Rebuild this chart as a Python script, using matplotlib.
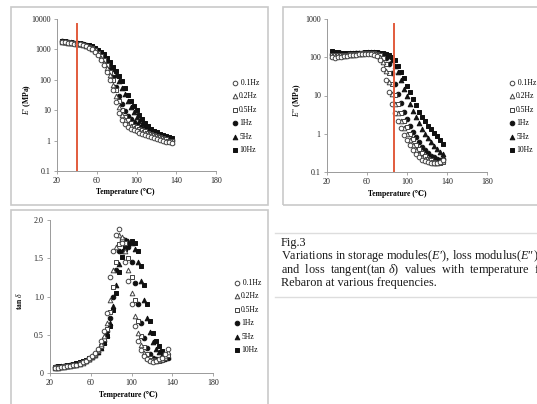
import matplotlib
matplotlib.use('Agg')  # no display
import matplotlib.pyplot as plt
from matplotlib.patches import Rectangle

plt.rcParams['font.family'] = ['Liberation Serif', 'DejaVu Serif']
plt.rcParams['mathtext.fontset'] = 'custom'
plt.rcParams['mathtext.rm'] = 'Liberation Serif'
plt.rcParams['mathtext.it'] = 'Liberation Serif:italic'
plt.rcParams['mathtext.bf'] = 'Liberation Serif:bold'

# temperature (deg C), shared by all sweeps
temps = [25, 28, 31, 34, 37, 40, 43, 46, 49, 52, 55, 58, 61, 64, 67, 70, 73, 76, 79,
         82, 85, 88, 91, 94, 97, 100, 103, 106, 109, 112, 115, 118, 121, 124, 127, 130, 133, 136]
freq_labels = [' 0.1Hz', '0.2Hz', '0.5Hz', '1Hz', '5Hz', '10Hz']

# storage modulus E' (MPa)
es_01 = [1750, 1700, 1650, 1600, 1550, 1500, 1450, 1380, 1280, 1150, 1000, 820, 640, 460, 300, 180, 100, 45, 18,
         8, 4.6, 3.4, 2.8, 2.5, 2.2, 2.0, 1.8, 1.65, 1.5, 1.4, 1.3, 1.2, 1.1, 1.05, 1.0, 0.92, 0.88, 0.85]
es_02 = [1780, 1720, 1670, 1620, 1570, 1520, 1470, 1400, 1310, 1190, 1050, 880, 700, 530, 370, 240, 140, 70, 30,
         13, 7, 4.6, 3.6, 3.0, 2.6, 2.3, 2.1, 1.9, 1.75, 1.6, 1.5, 1.4, 1.3, 1.2, 1.1, 1.0, 0.95, 0.9]
es_05 = [1800, 1750, 1700, 1650, 1600, 1550, 1490, 1420, 1340, 1230, 1100, 950, 780, 600, 440, 300, 180, 95, 45,
         20, 10, 6.2, 4.6, 3.7, 3.1, 2.7, 2.4, 2.2, 2.0, 1.8, 1.65, 1.5, 1.4, 1.3, 1.2, 1.1, 1.0, 0.95]
es_1 = [1820, 1770, 1720, 1670, 1620, 1570, 1510, 1450, 1370, 1270, 1150, 1000, 840, 670, 500, 350, 220, 120, 60,
        30, 16, 9.5, 6.5, 5.0, 4.0, 3.3, 2.8, 2.5, 2.2, 2.0, 1.8, 1.65, 1.5, 1.4, 1.3, 1.2, 1.1, 1.05]
es_5 = [1850, 1800, 1750, 1700, 1650, 1600, 1550, 1490, 1420, 1330, 1220, 1080, 930, 770, 610, 460, 330, 220, 140,
        90, 55, 33, 20, 12.5, 8.5, 6.0, 4.5, 3.5, 2.8, 2.4, 2.0, 1.8, 1.6, 1.5, 1.4, 1.3, 1.2, 1.15]
es_10 = [1870, 1820, 1770, 1720, 1670, 1620, 1570, 1510, 1440, 1360, 1260, 1130, 990, 840, 680, 530, 390, 270, 190,
         130, 90, 55, 32, 20, 14, 10, 7, 5, 3.8, 3.0, 2.5, 2.1, 1.85, 1.65, 1.5, 1.4, 1.3, 1.2]

# loss modulus E'' (MPa)
el_01 = [100, 98, 100, 102, 105, 108, 112, 115, 118, 120, 122, 124, 124, 122, 118, 108, 85, 50, 25,
         12, 6, 3.5, 2.2, 1.4, 0.95, 0.68, 0.5, 0.38, 0.3, 0.25, 0.21, 0.19, 0.18, 0.17, 0.17, 0.17, 0.18, 0.2]
el_02 = [108, 105, 106, 108, 110, 112, 115, 118, 121, 123, 125, 127, 128, 127, 124, 116, 100, 75, 45,
         22, 11, 6, 3.5, 2.2, 1.4, 1.0, 0.7, 0.5, 0.38, 0.3, 0.25, 0.22, 0.2, 0.18, 0.17, 0.17, 0.18, 0.2]
el_05 = [115, 112, 112, 113, 115, 117, 119, 121, 123, 125, 127, 129, 130, 130, 128, 123, 112, 95, 65,
         38, 20, 10.5, 6, 3.5, 2.2, 1.5, 1.0, 0.72, 0.52, 0.4, 0.31, 0.26, 0.22, 0.2, 0.18, 0.17, 0.17, 0.18]
el_1 = [122, 120, 118, 118, 120, 121, 122, 124, 126, 127, 129, 131, 132, 133, 132, 128, 122, 115, 95,
        65, 38, 20, 11, 6.2, 3.7, 2.4, 1.6, 1.1, 0.8, 0.6, 0.46, 0.37, 0.31, 0.27, 0.24, 0.22, 0.21, 0.22]
el_5 = [132, 130, 128, 126, 125, 125, 126, 127, 128, 129, 131, 133, 134, 135, 135, 133, 130, 125, 120,
        105, 85, 60, 40, 25, 15, 9.5, 6, 4, 2.7, 1.9, 1.35, 1.0, 0.78, 0.6, 0.48, 0.4, 0.34, 0.3]
el_10 = [142, 140, 136, 132, 130, 128, 128, 129, 130, 131, 132, 134, 135, 136, 137, 135, 133, 130, 125,
         115, 100, 85, 60, 42, 28, 18, 12, 8, 5.5, 3.8, 2.7, 2.1, 1.6, 1.3, 1.05, 0.85, 0.68, 0.55]

# loss tangent tan delta
td_01 = [0.07, 0.07, 0.075, 0.08, 0.085, 0.09, 0.1, 0.11, 0.12, 0.14, 0.16, 0.19, 0.22, 0.26, 0.32, 0.42, 0.55, 0.78, 1.25,
         1.6, 1.8, 1.88, 1.7, 1.45, 1.2, 0.9, 0.62, 0.42, 0.3, 0.22, 0.18, 0.16, 0.15, 0.16, 0.18, 0.2, 0.25, 0.32]
td_02 = [0.07, 0.07, 0.075, 0.08, 0.085, 0.09, 0.1, 0.11, 0.12, 0.135, 0.155, 0.18, 0.22, 0.25, 0.3, 0.38, 0.48, 0.65, 0.95,
         1.35, 1.65, 1.8, 1.78, 1.6, 1.35, 1.05, 0.75, 0.52, 0.36, 0.26, 0.2, 0.17, 0.16, 0.16, 0.17, 0.19, 0.22, 0.28]
td_05 = [0.075, 0.075, 0.08, 0.085, 0.09, 0.095, 0.1, 0.11, 0.125, 0.14, 0.16, 0.18, 0.21, 0.24, 0.29, 0.35, 0.44, 0.58, 0.8,
         1.12, 1.45, 1.68, 1.75, 1.7, 1.5, 1.25, 0.95, 0.68, 0.48, 0.34, 0.25, 0.2, 0.17, 0.16, 0.16, 0.17, 0.19, 0.24]
td_1 = [0.075, 0.08, 0.08, 0.085, 0.09, 0.1, 0.105, 0.115, 0.13, 0.145, 0.16, 0.18, 0.21, 0.24, 0.28, 0.34, 0.42, 0.55, 0.72,
        1.0, 1.35, 1.6, 1.72, 1.74, 1.65, 1.45, 1.18, 0.9, 0.65, 0.46, 0.33, 0.25, 0.2, 0.18, 0.17, 0.17, 0.18, 0.2]
td_5 = [0.08, 0.08, 0.085, 0.09, 0.095, 0.1, 0.11, 0.12, 0.135, 0.15, 0.165, 0.185, 0.21, 0.24, 0.28, 0.33, 0.4, 0.5, 0.65,
        0.88, 1.15, 1.42, 1.6, 1.68, 1.72, 1.7, 1.62, 1.45, 1.2, 0.95, 0.72, 0.54, 0.4, 0.32, 0.27, 0.23, 0.21, 0.21]
td_10 = [0.08, 0.085, 0.09, 0.095, 0.1, 0.105, 0.115, 0.125, 0.14, 0.155, 0.17, 0.19, 0.215, 0.245, 0.285, 0.33, 0.39, 0.48, 0.62,
         0.82, 1.05, 1.32, 1.52, 1.62, 1.68, 1.72, 1.7, 1.6, 1.4, 1.15, 0.9, 0.68, 0.52, 0.42, 0.35, 0.29, 0.25, 0.23]

# marker style per frequency: (marker, face, edge)
styles = [('o', 'white', '#444444'), ('^', 'white', '#444444'), ('s', 'white', '#444444'),
          ('o', '#111111', '#111111'), ('^', '#111111', '#111111'), ('s', '#111111', '#111111')]

red = '#e25b3c'
W, H = 537, 404


def fx(px):
    return px / W


def fy(py):
    return 1 - py / H


fig = plt.figure(figsize=(W / 100, H / 100), dpi=100)

# panel frames, drawn behind everything
for (x0, y0, x1, y1) in [(11, 7, 268, 205), (283, 7, 545, 205), (11, 210, 268, 412)]:
    fig.patches.append(Rectangle((fx(x0), fy(y1)), fx(x1 - x0), (y1 - y0) / H,
                                 transform=fig.transFigure, facecolor='none',
                                 edgecolor='#c9c9c9', linewidth=1.2, zorder=-10))


def make_panel(rect, series, log, ylim, yticks, yticklabels, ylabel, leg_xy, xlab_x, ylab_x):
    ax = fig.add_axes(rect)
    ax.patch.set_alpha(0)
    handles = []
    for vals, (m, fc, ec), lab in reversed(list(zip(series, styles, freq_labels))):
        h = ax.scatter(temps, vals, s=11, marker=m, facecolor=fc, edgecolor=ec,
                       linewidths=0.7, label=lab, zorder=3)
        handles.insert(0, h)
    if log:
        ax.set_yscale('log')
    ax.set_xlim(20, 180)
    ax.set_ylim(*ylim)
    ax.set_xticks([20, 60, 100, 140, 180])
    ax.set_yticks(yticks)
    ax.set_yticklabels(yticklabels)
    ax.minorticks_off()
    for s in ['top', 'right']:
        ax.spines[s].set_visible(False)
    for s in ['left', 'bottom']:
        ax.spines[s].set_color('#9a9a9a')
        ax.spines[s].set_linewidth(0.7)
    ax.tick_params(labelsize=5.8, length=2, width=0.6, color='#9a9a9a', pad=2.5, labelcolor='#222222')
    ax.set_ylabel(ylabel, fontsize=5.5, fontweight='bold')
    ax.yaxis.set_label_coords(ylab_x, 0.47)
    ax.set_xlabel('Temperature (℃)', fontsize=5.5, fontweight='bold')
    ax.xaxis.set_label_coords(xlab_x, -0.115)
    ax.legend(handles=handles, loc='upper left', bbox_to_anchor=leg_xy,
              bbox_transform=fig.transFigure, frameon=False, fontsize=5.5,
              handletextpad=0.1, labelspacing=0.72, handlelength=1.0,
              borderpad=0, markerscale=1.0)
    return ax


ax1 = make_panel([fx(57), fy(171), fx(159), 152 / H],
                 [es_01, es_02, es_05, es_1, es_5, es_10], True, (0.1, 10000),
                 [0.1, 1, 10, 100, 1000, 10000], ['0.1', '1', '10', '100', '1000', '10000'],
                 r"$\mathit{E}$' (MPa)", (fx(227), fy(75)), 0.43, -0.15)
ax1.axvline(40, ymax=0.967, color=red, linewidth=1.4, zorder=4)

ax2 = make_panel([fx(327), fy(172), fx(160), 153 / H],
                 [el_01, el_02, el_05, el_1, el_5, el_10], True, (0.1, 1000),
                 [0.1, 1, 10, 100, 1000], ['0.1', '1', '10', '100', '1000'],
                 r"$\mathit{E}$'' (MPa)", (fx(504), fy(75)), 0.44, -0.15)
ax2.axvline(87, ymax=0.967, color=red, linewidth=1.4, zorder=4)

ax3 = make_panel([fx(50), fy(373), fx(163), 153 / H],
                 [td_01, td_02, td_05, td_1, td_5, td_10], False, (0, 2.0),
                 [0, 0.5, 1.0, 1.5, 2.0], ['0', '0.5', '1.0', '1.5', '2.0'],
                 r"tan $\mathit{\delta}$", (fx(229), fy(275)), 0.48, -0.16)

# caption block
fig.add_artist(plt.Line2D([fx(275), 1], [fy(233), fy(233)], transform=fig.transFigure,
                          color='#dddddd', linewidth=1.0))
fig.add_artist(plt.Line2D([fx(275), 1], [fy(297), fy(297)], transform=fig.transFigure,
                          color='#dddddd', linewidth=1.0))
caption = ['Fig.3',
           r"Variations in storage modules($\mathit{E}$′), loss modulus($\mathit{E}$″),",
           r"and  loss  tangent(tan $\mathit{\delta}$)  values  with  temperature  for",
           'Rebaron at various frequencies.']
for i, line in enumerate(caption):
    fig.text(fx(281), fy(243 + i * 13.4), line, fontsize=8.8, va='center', ha='left', color='#1a1a1a')

fig.savefig('out.png', dpi=100)
